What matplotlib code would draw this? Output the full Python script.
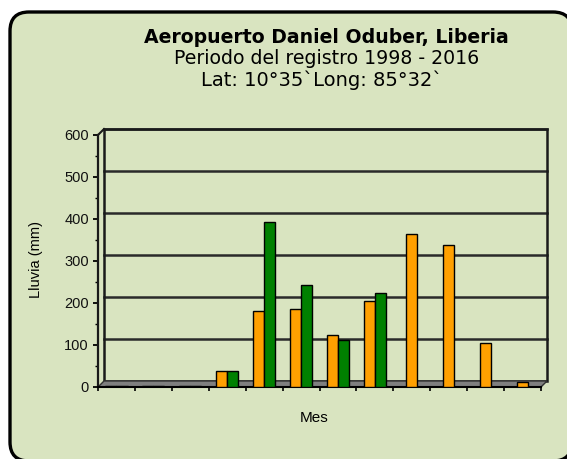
import numpy as np
from matplotlib import pyplot as plt
from matplotlib.patches import FancyBboxPatch, Polygon, Rectangle
from matplotlib.transforms import ScaledTranslation

meses = ["Ene", "Feb", "Mar", "Abr", "May", "Jun", "Jul", "Ago", "Sep", "Oct", "Nov", "Dic"]
serie_a = [2, 2, 2, 38, 180, 185, 124, 205, 364, 337, 105, 12]
serie_b = [2, 2, 2, 37, 392, 242, 112, 225, np.nan, np.nan, np.nan, np.nan]

plt.rcParams["font.family"] = ["DejaVu Sans"]

fig = plt.figure(figsize=(5.67, 4.59), dpi=100)
fig.patch.set_facecolor("white")

# fondo redondeado (en pulgadas); borde derecho e inferior quedan casi fuera
panel = FancyBboxPatch((0.10, -0.02), 5.62, 4.49, boxstyle="round,pad=0,rounding_size=0.19",
                       transform=fig.dpi_scale_trans, facecolor="#d9e4c0", edgecolor="black",
                       linewidth=2.4, zorder=-10)
fig.patches.append(panel)

fig.text(0.575, 1 - 43 / 459, "Aeropuerto Daniel Oduber, Liberia", ha="center",
         va="baseline", fontsize=13.6, fontweight="bold")
fig.text(0.576, 1 - 64 / 459, "Periodo del registro 1998 - 2016", ha="center",
         va="baseline", fontsize=13.6)
fig.text(0.568, 1 - 86 / 459, "Lat: 10°35`Long: 85°32`", ha="center",
         va="baseline", fontsize=14)

ax = fig.add_axes([98 / 567, 72 / 459, 443 / 567, 252 / 459])
ax.set_facecolor("none")
x = np.arange(len(meses))
w = 0.3
a = np.array(serie_a, dtype=float)
b = np.array(serie_b, dtype=float)
tiene_b = ~np.isnan(b)
pos_a = np.where(tiene_b, x - w / 2, x)
ax.bar(pos_a, a, width=w, color="#ffa000", edgecolor="black", linewidth=1, zorder=4)
ax.bar(x[tiene_b] + w / 2, b[tiene_b], width=w, color="#008000", edgecolor="black",
       linewidth=1, zorder=4)

ax.set_xlim(-0.5, len(meses) - 0.5)
ax.set_ylim(0, 600)
ax.set_yticks(range(0, 601, 100))
ax.set_yticks(range(50, 600, 100), minor=True)
ax.set_xticks(np.arange(-0.5, len(meses), 1))
ax.set_xticklabels([])
ax.tick_params(axis="x", length=3, width=1.2, color="black")
ax.tick_params(axis="y", which="major", length=3.5, width=1.3, labelsize=10.5, pad=3)
ax.tick_params(axis="y", which="minor", length=2.5, width=1)
for t in ax.get_yticklabels():
    t.set_family("Liberation Sans")
    t.set_color("#111111")

# pared del fondo, desplazada como en 3D
prof = ScaledTranslation(0.06, 0.06, fig.dpi_scale_trans)
trans_fondo = ax.get_yaxis_transform() + prof
for v in range(100, 601, 100):
    ax.plot([0, 1], [v, v], transform=trans_fondo, color="#2a2a2a", linewidth=1.8,
            clip_on=False, zorder=1)
ax.add_patch(Rectangle((0, 0), 1, 1, transform=ax.transAxes + prof, fill=False,
                       edgecolor="#1a1a1a", linewidth=1.8, clip_on=False, zorder=1))
dx, dy = 6 / 443, 6 / 252
ax.add_patch(Polygon([(0, 0), (1, 0), (1 + dx, dy), (dx, dy)], closed=True,
                     transform=ax.transAxes, facecolor="#7f7f7f", edgecolor="#333333",
                     linewidth=1, clip_on=False, zorder=2))
ax.plot([0, dx], [1, 1 + dy], transform=ax.transAxes, color="#1a1a1a", linewidth=1.5,
        clip_on=False, zorder=2)

for s in ["top", "right"]:
    ax.spines[s].set_visible(False)
ax.spines["left"].set_linewidth(1.6)
ax.spines["left"].set_color("#1a1a1a")
ax.spines["bottom"].set_color("black")
ax.spines["bottom"].set_linewidth(1.5)

ax.set_ylabel("Lluvia (mm)", fontsize=10.5, family="Liberation Sans")
ax.yaxis.set_label_coords(-0.125, 0.504)
ax.set_xlabel("Mes", fontsize=11, family="Liberation Sans")
ax.xaxis.set_label_coords(0.4876, -0.095)

plt.savefig("out.png", dpi=100)
